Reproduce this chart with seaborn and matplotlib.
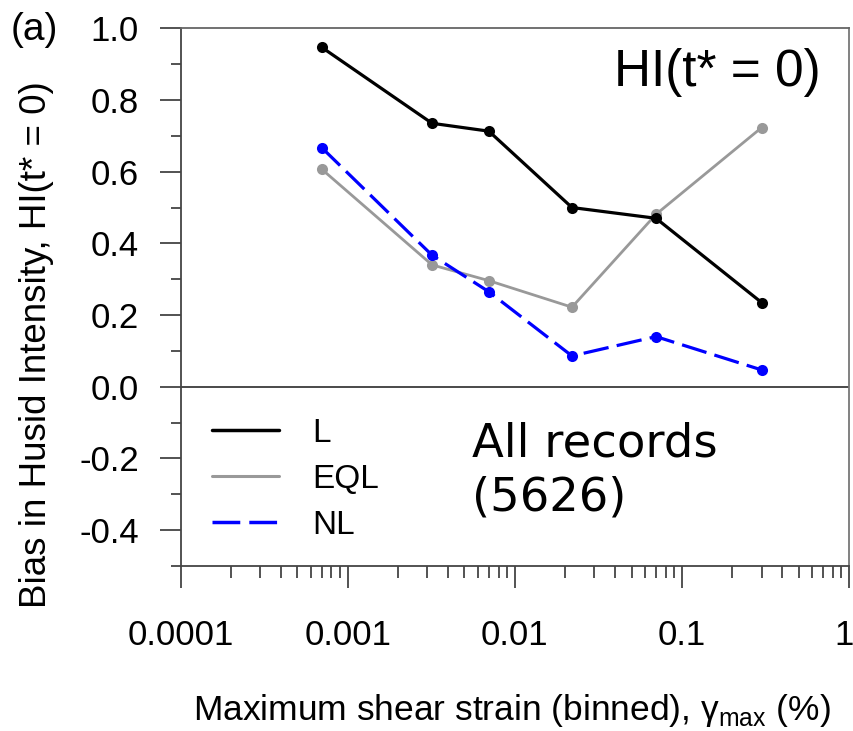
import numpy as np
import pandas as pd
import matplotlib
matplotlib.use("Agg")
import matplotlib.pyplot as plt
import matplotlib.transforms as mtransforms
from matplotlib.lines import Line2D
from matplotlib.ticker import LogLocator, FixedLocator, NullFormatter
import seaborn as sns

# ---- data ----
strain = [0.0007, 0.0032, 0.007, 0.022, 0.07, 0.3]
bias_L = [0.947, 0.735, 0.713, 0.500, 0.470, 0.235]
bias_EQL = [0.607, 0.340, 0.296, 0.222, 0.481, 0.723]
bias_NL = [0.667, 0.367, 0.265, 0.086, 0.140, 0.047]
series_names = ["L", "EQL", "NL"]
xtick_vals = [0.0001, 0.001, 0.01, 0.1, 1]
xtick_labels = ["0.0001", "0.001", "0.01", "0.1", "1"]
ytick_vals = [-0.4, -0.2, 0.0, 0.2, 0.4, 0.6, 0.8, 1.0]
ytick_labels = ["-0.4", "-0.2", "0.0", "0.2", "0.4", "0.6", "0.8", "1.0"]

sns.set_style("ticks")
plt.rcParams["font.family"] = ["Liberation Sans", "DejaVu Sans"]
plt.rcParams["text.color"] = "black"
plt.rcParams["axes.labelcolor"] = "black"
plt.rcParams["mathtext.fontset"] = "custom"
plt.rcParams["mathtext.rm"] = "Liberation Sans"

fig = plt.figure(figsize=(8.54, 7.31), dpi=100)
L, R, B, T = 180.5 / 854, 849 / 854, 1 - 566 / 731, 1 - 28.3 / 731
ax = fig.add_axes([L, B, R - L, T - B])

colors = {"L": "black", "EQL": "#999999", "NL": "#0000ff"}
dash_styles = {"L": "-", "EQL": "-", "NL": (0, (8, 2.6))}
lws = {"L": 2.3, "EQL": 2.0, "NL": 2.3}
data = {"L": bias_L, "EQL": bias_EQL, "NL": bias_NL}

ax.axhline(0, color="#3a3a3a", lw=1.3, zorder=1)

for name in ["EQL", "L", "NL"]:
    df = pd.DataFrame({"x": strain, "y": data[name]})
    sns.lineplot(data=df, x="x", y="y", ax=ax, color=colors[name],
                 linestyle=dash_styles[name], lw=lws[name], marker="o",
                 markersize=8, markeredgecolor=colors[name], markeredgewidth=0,
                 zorder=3)

ax.set_xscale("log")
ax.set_xlim(1e-4, 1)
ax.set_ylim(-0.5, 1.0)

ax.xaxis.set_major_locator(FixedLocator(xtick_vals))
ax.set_xticklabels(xtick_labels)
ax.xaxis.set_minor_locator(LogLocator(base=10, subs=np.arange(2, 10)))
ax.xaxis.set_minor_formatter(NullFormatter())
ax.yaxis.set_major_locator(FixedLocator(ytick_vals))
ax.set_yticklabels(ytick_labels)
ax.yaxis.set_minor_locator(FixedLocator([-0.5, -0.3, -0.1, 0.1, 0.3, 0.5, 0.7, 0.9]))

spine_c = "#444444"
for s in ax.spines.values():
    s.set_color(spine_c)
    s.set_linewidth(1.3)
    s.set_visible(True)
ax.spines["right"].set_color("#777777")
ax.spines["top"].set_color("#666666")

ax.tick_params(axis="both", which="major", direction="out", color=spine_c,
               width=1.3, labelsize=25, labelcolor="black")
ax.tick_params(axis="x", which="major", length=16, pad=22)
ax.tick_params(axis="x", which="minor", length=8.5, width=1.3, color=spine_c)
ax.tick_params(axis="y", which="major", length=15, pad=15)
ax.tick_params(axis="y", which="minor", length=7.5, width=1.3, color=spine_c)
last = ax.get_xticklabels()[-1]
last.set_horizontalalignment("right")
last.set_transform(last.get_transform() +
                   mtransforms.ScaledTranslation(5 / 100, 0, fig.dpi_scale_trans))

ax.set_xlabel("Maximum shear strain (binned), \u03b3$_{\\rm max}$ (%)", fontsize=25.5)
ax.set_ylabel("Bias in Husid Intensity, HI(t* = 0)", fontsize=26.5)
ax.xaxis.set_label_coords(0.495, -0.268)
ax.xaxis.label.set_va("center")
ax.yaxis.set_label_coords(-0.216, 0.411)
ax.yaxis.label.set_va("center")

ax.text(0.957, 0.893, "HI(t* = 0)", transform=ax.transAxes, ha="right",
        va="baseline", fontsize=37)
ax.text(0.4356, 0.2033, "All records", transform=ax.transAxes, ha="left",
        va="baseline", fontsize=33.5, family="DejaVu Sans")
ax.text(0.4356, 0.104, "(5626)", transform=ax.transAxes, ha="left",
        va="baseline", fontsize=33.5, family="DejaVu Sans")

fig.text(11 / 854, 1 - 30 / 731, "(a)", fontsize=28, va="center", ha="left")

handles = [Line2D([], [], color=colors[n], lw=lws[n] + 0.2, linestyle=dash_styles[n])
           for n in series_names]
ax.legend(handles, series_names, loc="center left",
          bbox_to_anchor=((212 - 180.5) / 668.5, (566 - 479.3) / 537.7),
          frameon=False, fontsize=24, handlelength=2.0, handletextpad=1.0,
          labelspacing=0.45, borderpad=0, borderaxespad=0)

fig.savefig("out.png", dpi=100)
